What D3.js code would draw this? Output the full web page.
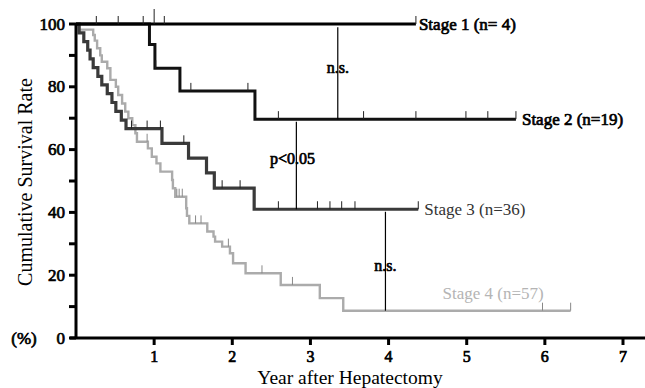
<!DOCTYPE html>
<html>
<head>
<meta charset="utf-8">
<script src="https://cdn.jsdelivr.net/npm/d3@7"></script>
<style>
  html, body { margin: 0; padding: 0; background: #fff; }
  svg { display: block; }
  text.b { stroke: currentColor; stroke-width: 0.7px; paint-order: fill; }
</style>
</head>
<body>
<svg id="chart" width="645" height="388"></svg>
<script>
// ---------- DATA ----------
const xTicks = [1, 2, 3, 4, 5, 6, 7];
const yMajorTicks = [0, 20, 40, 60, 80, 100];
const yMinorTicks = [10, 30, 50, 70, 90];

const stageNames = ["Stage 1 (n= 4)", "Stage 2 (n=19)", "Stage 3 (n=36)", "Stage 4 (n=57)"];

// event times (years) and survival (%) after each drop
const stage1Times = [];
const stage1Surv = [];
const stage1End = 4.35;
const stage1Censor = [0.26, 0.54, 0.86, 1.0, 1.13, 4.35];

const stage2Times = [0.94, 1.01, 1.33, 2.29];
const stage2Surv = [93.5, 85.9, 78.7, 69.7];
const stage2End = 5.63;
const stage2Censor = [1.02, 1.47, 2.20, 2.59, 3.68, 4.35, 4.99, 5.27, 5.63];

const stage3Times = [0.04, 0.10, 0.15, 0.18, 0.22, 0.28, 0.33, 0.40, 0.46, 0.51, 0.58, 0.64, 1.10, 1.44, 1.67, 1.77, 2.28];
const stage3Surv = [97.2, 94.4, 91.7, 88.9, 86.1, 83.3, 80.6, 77.8, 75.0, 72.2, 69.4, 66.7, 62.0, 57.3, 52.6, 47.7, 41.0];
const stage3End = 4.38;
const stage3Censor = [0.71, 0.91, 1.08, 1.38, 1.87, 2.10, 2.59, 3.09, 3.25, 3.40, 3.57, 4.38];

const stage4Times = [0.04, 0.22, 0.24, 0.27, 0.31, 0.33, 0.40, 0.44, 0.51, 0.54, 0.59, 0.63, 0.67, 0.72, 0.76, 0.78, 0.92, 0.97, 1.03, 1.08, 1.23, 1.24, 1.27, 1.41, 1.42, 1.45, 1.68, 1.76, 1.78, 1.87, 1.97, 2.01, 2.17, 2.62, 3.12, 3.42];
const stage4Surv = [98.2, 96.5, 94.7, 92.3, 90.0, 88.0, 85.9, 82.2, 80.0, 77.4, 74.7, 72.1, 70.0, 67.8, 65.2, 62.5, 60.4, 57.7, 55.6, 53.0, 50.3, 47.7, 45.0, 41.3, 38.9, 36.5, 33.9, 32.3, 30.7, 29.1, 27.0, 23.8, 20.6, 16.9, 12.7, 8.7];
const stage4End = 6.33;
const stage4Censor = [0.91, 1.29, 1.32, 1.36, 1.53, 1.60, 1.95, 2.38, 2.77, 5.97, 6.33];

// comparison brackets: time, upper %, lower %, label
const compTimes = [3.35, 2.82, 3.96];
const compUpper = [99, 68.9, 40.2];
const compLower = [69.7, 41.0, 8.7];
const compLabels = ["n.s.", "p<0.05", "n.s."];

// ---------- LAYOUT ----------
const FONT = "'Liberation Serif', 'Times New Roman', Times, serif";
const svg = d3.select("#chart");
const x = d3.scaleLinear().domain([0, 7]).range([76, 623]);
const y = d3.scaleLinear().domain([0, 100]).range([338, 24]);

const stages = [
  { times: stage1Times, surv: stage1Surv, end: stage1End, censor: stage1Censor, color: "#000", width: 3 },
  { times: stage2Times, surv: stage2Surv, end: stage2End, censor: stage2Censor, color: "#111", width: 3 },
  { times: stage3Times, surv: stage3Surv, end: stage3End, censor: stage3Censor, color: "#3a3a3a", width: 3.2 },
  { times: stage4Times, surv: stage4Surv, end: stage4End, censor: stage4Censor, color: "#ababab", width: 2.4 }
];

function survAt(s, t) {
  let v = 100;
  for (let i = 0; i < s.times.length; i++) if (s.times[i] <= t) v = s.surv[i];
  return v;
}

function addText(sel, bold, color, size) {
  return sel.style("font-family", FONT).style("font-weight", "normal")
    .style("font-size", size + "px").attr("fill", color).style("color", color)
    .classed("b", bold);
}

const line = d3.line().x(d => x(d[0])).y(d => y(d[1])).curve(d3.curveStepAfter);

[3, 2, 1, 0].forEach(i => {
  const s = stages[i];
  const pts = [[0, 100]];
  s.times.forEach((t, k) => pts.push([t, s.surv[k]]));
  pts.push([s.end, survAt(s, s.end)]);
  svg.append("path").attr("d", line(pts))
    .attr("fill", "none").attr("stroke", s.color).attr("stroke-width", s.width)
    .attr("stroke-linejoin", "miter").attr("stroke-linecap", "butt");
  svg.append("g").selectAll("line").data(s.censor).join("line")
    .attr("x1", d => x(d)).attr("x2", d => x(d))
    .attr("y1", d => y(survAt(s, d)))
    .attr("y2", d => y(survAt(s, d)) - (i === 0 && d === 1.0 ? 15 : 8))
    .attr("stroke", i === 3 ? "#888" : "#222").attr("stroke-width", 1);
});

// comparison lines
compTimes.forEach((t, i) => {
  svg.append("line").attr("x1", x(t)).attr("x2", x(t))
    .attr("y1", y(compUpper[i])).attr("y2", y(compLower[i]))
    .attr("stroke", "#000").attr("stroke-width", 1.2);
});
const compLabelPos = [[3.35, 86], [2.77, 57.3], [3.96, 23.2]];
compLabels.forEach((l, i) => {
  addText(svg.append("text"), true, "#000", 16)
    .attr("x", x(compLabelPos[i][0])).attr("y", y(compLabelPos[i][1]))
    .attr("text-anchor", "middle").attr("dominant-baseline", "central").text(l);
});

// stage labels
const labelPos = [[stage1End, 100, 3], [stage2End, 69.7, 6], [stage3End, 41.0, 6], [4.69, 14.3, 0]];
const labelFill = ["#000", "#000", "#333", "#b4b4b4"];
stageNames.forEach((n, i) => {
  addText(svg.append("text"), i < 2, labelFill[i], 17)
    .attr("x", x(labelPos[i][0]) + labelPos[i][2]).attr("y", y(labelPos[i][1]))
    .attr("dominant-baseline", "central").text(n);
});

// axes
svg.append("line").attr("x1", 70).attr("x2", 645).attr("y1", y(0)).attr("y2", y(0))
  .attr("stroke", "#000").attr("stroke-width", 3);
svg.append("line").attr("x1", x(0)).attr("x2", x(0)).attr("y1", y(100) - 1).attr("y2", y(0))
  .attr("stroke", "#000").attr("stroke-width", 3);

svg.append("g").selectAll("line").data(yMajorTicks.concat(yMinorTicks)).join("line")
  .attr("x1", x(0) - 7).attr("x2", x(0)).attr("y1", d => y(d)).attr("y2", d => y(d))
  .attr("stroke", "#000").attr("stroke-width", 3);
addText(svg.append("g").selectAll("text").data(yMajorTicks).join("text"), true, "#000", 17)
  .attr("x", 65).attr("y", d => y(d)).attr("text-anchor", "end").attr("dominant-baseline", "central")
  .text(d => d);

svg.append("g").selectAll("line").data(xTicks).join("line")
  .attr("x1", d => x(d)).attr("x2", d => x(d)).attr("y1", y(0)).attr("y2", y(0) + 7)
  .attr("stroke", "#000").attr("stroke-width", 3);
addText(svg.append("g").selectAll("text").data(xTicks).join("text"), true, "#000", 16)
  .attr("x", d => x(d)).attr("y", 356).attr("text-anchor", "middle").attr("dominant-baseline", "central")
  .text(d => d);

addText(svg.append("text"), true, "#000", 17)
  .attr("x", 24).attr("y", y(0)).attr("text-anchor", "middle").attr("dominant-baseline", "central")
  .text("(%)");

addText(svg.append("text"), false, "#000", 19.5)
  .attr("x", 350).attr("y", 384).attr("text-anchor", "middle")
  .text("Year after Hepatectomy");

addText(svg.append("text"), false, "#000", 20)
  .attr("transform", "translate(25,182) rotate(-90)")
  .attr("text-anchor", "middle").attr("dominant-baseline", "central")
  .text("Cumulative Survival Rate");
</script>
</body>
</html>
